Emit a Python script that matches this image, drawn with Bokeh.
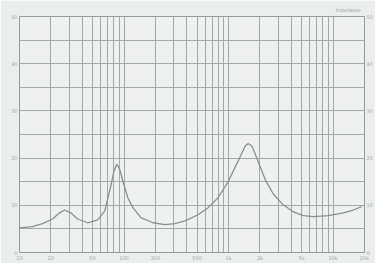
from bokeh.plotting import figure
from bokeh.models import Range1d, FixedTicker, LinearAxis, Title
from bokeh.embed import file_html
from bokeh.resources import INLINE

# Impedance curve (frequency in Hz, impedance in ohm)
freq = [10, 13.3, 16.6, 20.7, 24.2, 27.0, 30.9, 36.0, 44.9, 56.1, 65.5, 74.8, 80, 85.4,
        91, 97.5, 108.8, 121.6, 145, 189, 246, 307, 384, 511, 639, 794, 986, 1230,
        1440, 1540, 1680, 1920, 2240, 2680, 3340, 4170, 5200, 6480, 9020, 12570,
        15700, 18700]
imp = [5.2, 5.5, 6.1, 7.1, 8.4, 9.0, 8.4, 7.1, 6.3, 6.9, 8.8, 14.1, 17.2, 18.7,
       17.6, 15.1, 11.6, 9.5, 7.4, 6.3, 5.9, 6.1, 6.7, 8.0, 9.5, 11.6, 14.9, 19.3,
       22.5, 23.1, 22.5, 19.3, 15.5, 12.4, 10.1, 8.6, 7.8, 7.6, 7.8, 8.4, 9.0, 9.7]

x_label_ticks = [10, 20, 50, 100, 200, 500, 1000, 2000, 5000, 10000, 20000]
x_label_text = ["10", "20", "50", "100", "200", "500", "1k", "2k", "5k", "10k", "20k"]
y_label_ticks = [0, 10, 20, 30, 40, 50]
y_grid_ticks = [0, 5, 10, 15, 20, 25, 30, 35, 40, 45, 50]
x_grid_ticks = [m * d for d in (10, 100, 1000, 10000) for m in range(1, 10)] + [20000]

GRID = "#a3a8a8"
TXT = "#a4a9a9"

p = figure(width=375, height=263, x_axis_type="log",
           x_range=Range1d(10, 20000), y_range=Range1d(0, 50),
           output_backend="svg", toolbar_location=None,
           min_border_left=19, min_border_right=0, min_border_top=0,
           min_border_bottom=0,
           background_fill_color="#eff1f1", border_fill_color="#ebeeee",
           outline_line_color="#949999", outline_line_width=1)

p.xgrid.ticker = FixedTicker(ticks=x_grid_ticks)
p.ygrid.ticker = FixedTicker(ticks=y_grid_ticks)
for g in (p.xgrid, p.ygrid):
    g.grid_line_color = GRID
    g.grid_line_width = 1

p.xaxis.ticker = FixedTicker(ticks=x_label_ticks)
p.xaxis.major_label_overrides = {t: s for t, s in zip(x_label_ticks, x_label_text)}
p.yaxis.ticker = FixedTicker(ticks=y_label_ticks)

ra = LinearAxis(ticker=FixedTicker(ticks=y_label_ticks))
p.add_layout(ra, "right")

for ax in (p.xaxis[0], p.yaxis[0], ra):
    ax.axis_line_color = None
    ax.major_tick_line_color = None
    ax.minor_tick_line_color = None
    ax.major_tick_out = 0
    ax.major_tick_in = 0
    ax.minor_tick_out = 0
    ax.minor_tick_in = 0
    ax.major_label_text_font_size = "5px"
    ax.major_label_text_color = TXT
    ax.major_label_text_font = "DejaVu Sans"
    ax.major_label_standoff = 2

p.add_layout(Title(text="Impedance", align="right", text_font_size="5px",
                   text_color=TXT, text_font_style="normal", offset=4,
                   standoff=8), "above")

p.line(freq, imp, line_color="#8a8f8f", line_width=1.3)

open("out.html", "w").write(file_html(p, INLINE))
